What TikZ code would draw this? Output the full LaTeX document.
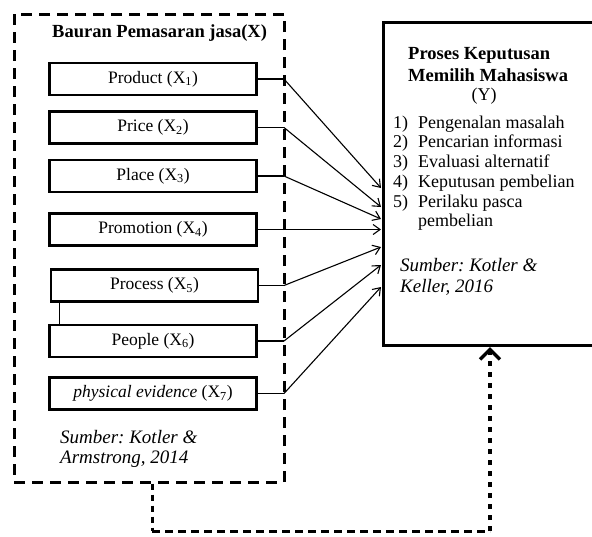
\documentclass[tikz,border=0pt]{standalone}
\usepackage{fontspec}
\setmainfont{Liberation Serif}
\usetikzlibrary{arrows.meta}
\frenchspacing
\begin{document}
\begin{tikzpicture}[x=1pt,y=-1pt,
  factor/.style={draw, line width=2.8pt, minimum width=207pt, minimum height=32pt, inner sep=0pt, font=\fontsize{17.5}{19}\selectfont},
  txt/.style={inner sep=0pt, anchor=west, font=\fontsize{18}{20}\selectfont},
  btxt/.style={txt, font=\fontsize{18.5}{20}\selectfont\bfseries},
  itxt/.style={txt, font=\fontsize{19}{21}\selectfont\itshape},
  link/.style={line width=1.1pt, -{Straight Barb[length=7pt,width=10pt,line width=1.1pt]}},
  stub/.style={line width=1.8pt},
  outer/.style={draw, line width=3pt, dash pattern=on 11pt off 7pt, inner sep=0pt}
]
\clip (0,0) rectangle (592,536);
\fill[white] (0,0) rectangle (592,536);

% outer dashed container
\node[outer, minimum width=270pt, minimum height=468pt] (X) at (149,248) {};
\node[btxt] (xt) at (52,33) {Bauran Pemasaran jasa(X)};

% factor boxes
\node[factor] (p1) at (153,79) {Product (X\textsubscript{1})};
\node[factor] (p2) at (153,127.5) {Price (X\textsubscript{2})};
\node[factor] (p3) at (153,176) {Place (X\textsubscript{3})};
\node[factor] (p4) at (153,229.5) {Promotion (X\textsubscript{4})};
\node[factor] (p5) at (154.5,285.5) {Process (X\textsubscript{5})};
\node[factor] (p6) at (153,341) {People (X\textsubscript{6})};
\node[factor] (p7) at (153,393.5) {\textit{physical evidence} (X\textsubscript{7})};

\coordinate (v1) at ([xshift=10pt]p5.south west);
\draw[line width=0.8pt] (v1) -- (v1 |- p6.north);

\node[itxt] (s1) at (60,437) {Sumber: Kotler \&};
\node[itxt] (s2) at (60,459) {Armstrong, 2014};

% decision box
\node[draw, line width=3pt, minimum width=240pt, minimum height=323pt, anchor=north west, inner sep=0pt] (Y) at (382,21) {};
\node[btxt] (y1) at (408,55) {Proses Keputusan};
\node[btxt] (y2) at (408,75) {Memilih Mahasiswa};
\node[txt, anchor=center] (y3) at (484,96) {(Y)};
\node[txt] (l1) at (393,124) {\makebox[25pt][l]{1)}Pengenalan masalah};
\node[txt] (l2) at (393,143) {\makebox[25pt][l]{2)}Pencarian informasi};
\node[txt] (l3) at (393,163) {\makebox[25pt][l]{3)}Evaluasi alternatif};
\node[txt] (l4) at (393,183) {\makebox[25pt][l]{4)}Keputusan pembelian};
\node[txt] (l5) at (393,203) {\makebox[25pt][l]{5)}Perilaku pasca};
\node[txt] (l6) at (418,222) {pembelian};
\node[itxt] (k1) at (400,265) {Sumber: Kotler \&};
\node[itxt] (k2) at (400,287) {Keller, 2016};

% bend and tip points
\coordinate (b1) at (284,79);
\coordinate (b2) at (284,127.5);
\coordinate (b3) at (284,176);
\coordinate (b4) at (284,229.5);
\coordinate (b5) at (284,285.5);
\coordinate (b6) at (284,341);
\coordinate (b7) at (284,393.5);
\coordinate (t1) at (381,188);
\coordinate (t2) at (381,207);
\coordinate (t3) at (381,219);
\coordinate (t4) at (381,229.5);
\coordinate (t5) at (381,247);
\coordinate (t6) at (381,265);
\coordinate (t7) at (381,287);

\foreach \i in {1,...,7}{
  \draw[stub] (p\i.east) -- (b\i);
  \draw[link] (b\i) -- (t\i);
}

% feedback connector
\coordinate (c0) at ([xshift=3pt]X.south);
\coordinate (c1) at (152,531);
\coordinate (c2) at (490,531);
\draw[line width=3pt, dash pattern=on 6pt off 5pt] (c0) -- (c1);
\draw[line width=3pt, dash pattern=on 8pt off 5pt] (c1) -- (c2);
\draw[line width=3.5pt, dash pattern=on 5pt off 6pt, -{Straight Barb[length=10pt,width=20pt,line width=3.5pt]}] (c2) -- (Y.south -| c2);
\end{tikzpicture}
\end{document}
